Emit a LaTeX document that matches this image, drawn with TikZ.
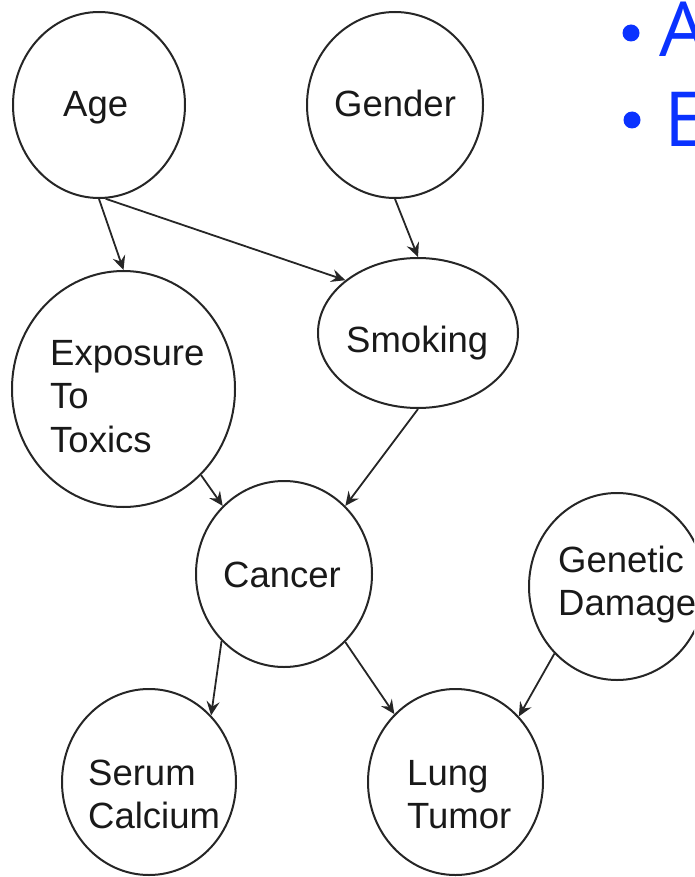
\documentclass[tikz,border=0pt]{standalone}
\usepackage{fontspec}
\setmainfont{Liberation Sans}
\newfontfamily\bulletfont{Open Sans}
\usetikzlibrary{shapes.geometric,arrows.meta}
\definecolor{slideblue}{RGB}{10,50,255}
\begin{document}
\begin{tikzpicture}[x=1pt,y=-1pt,
  var/.style={ellipse, draw=black!85, line width=2pt, inner sep=0pt},
  lbl/.style={anchor=base west, inner sep=0pt, font=\fontsize{36.5}{43.5}\selectfont, text=black!90},
  edge/.style={draw=black!85, line width=1.8pt, -{Stealth[length=14pt,width=13pt,inset=5pt]}},
  bul/.style={anchor=base west, inner sep=0pt, font=\bulletfont\fontsize{76}{90}\selectfont, text=slideblue}
]
\useasboundingbox (0,0) rectangle (694,877);
\clip (0,0) rectangle (694,877);

% variables
\node[var, minimum width=172pt, minimum height=186pt] (age) at (99,105) {};
\node[var, minimum width=176pt, minimum height=186pt] (gender) at (395,105) {};
\node[var, minimum width=200pt, minimum height=150pt] (smoke) at (418,333) {};
\node[var, minimum width=223pt, minimum height=236pt] (expo) at (123.5,389) {};
\node[var, minimum width=176pt, minimum height=186pt] (cancer) at (284,574) {};
\node[var, minimum width=176pt, minimum height=187pt] (genetic) at (617,586.5) {};
\node[var, minimum width=174pt, minimum height=186pt] (serum) at (149,782) {};
\node[var, minimum width=175pt, minimum height=186pt] (lung) at (455.5,782) {};

% labels
\node[lbl] (age-t) at (63,117) {Age};
\node[lbl] (gender-t) at (334,117) {Gender};
\node[lbl] (smoke-t) at (346,352) {Smoking};
\node[lbl] (cancer-t) at (223,587) {Cancer};
\node[lbl] (expo-t) at (50,365) {\begin{tabular}[t]{@{}l@{}}Exposure\\To\\Toxics\end{tabular}};
\node[lbl] (genetic-t) at (558,572) {\begin{tabular}[t]{@{}l@{}}Genetic\\Damage\end{tabular}};
\node[lbl] (serum-t) at (88,785) {\begin{tabular}[t]{@{}l@{}}Serum\\Calcium\end{tabular}};
\node[lbl] (lung-t) at (407,785) {\begin{tabular}[t]{@{}l@{}}Lung\\Tumor\end{tabular}};

% edges
\draw[edge] (age.south) -- (expo.north);
\draw[edge] (age.-86) -- (smoke.144);
\draw[edge] (gender.south) -- (smoke.north);
\draw[edge] (smoke.south) -- (cancer.48);
\draw[edge] (expo.-48) -- (cancer.132);
\draw[edge] (cancer.-133) -- (serum.47);
\draw[edge] (cancer.-48) -- (lung.132);
\draw[edge] (genetic.-133) -- (lung.46);

% bullets
\fill[slideblue] (631,33) circle (8.5pt);
\fill[slideblue] (632,120) circle (8.5pt);
\node[bul] (bA) at (659,57) {A};
\node[bul] (bE) at (664,147) {E};
\end{tikzpicture}
\end{document}
